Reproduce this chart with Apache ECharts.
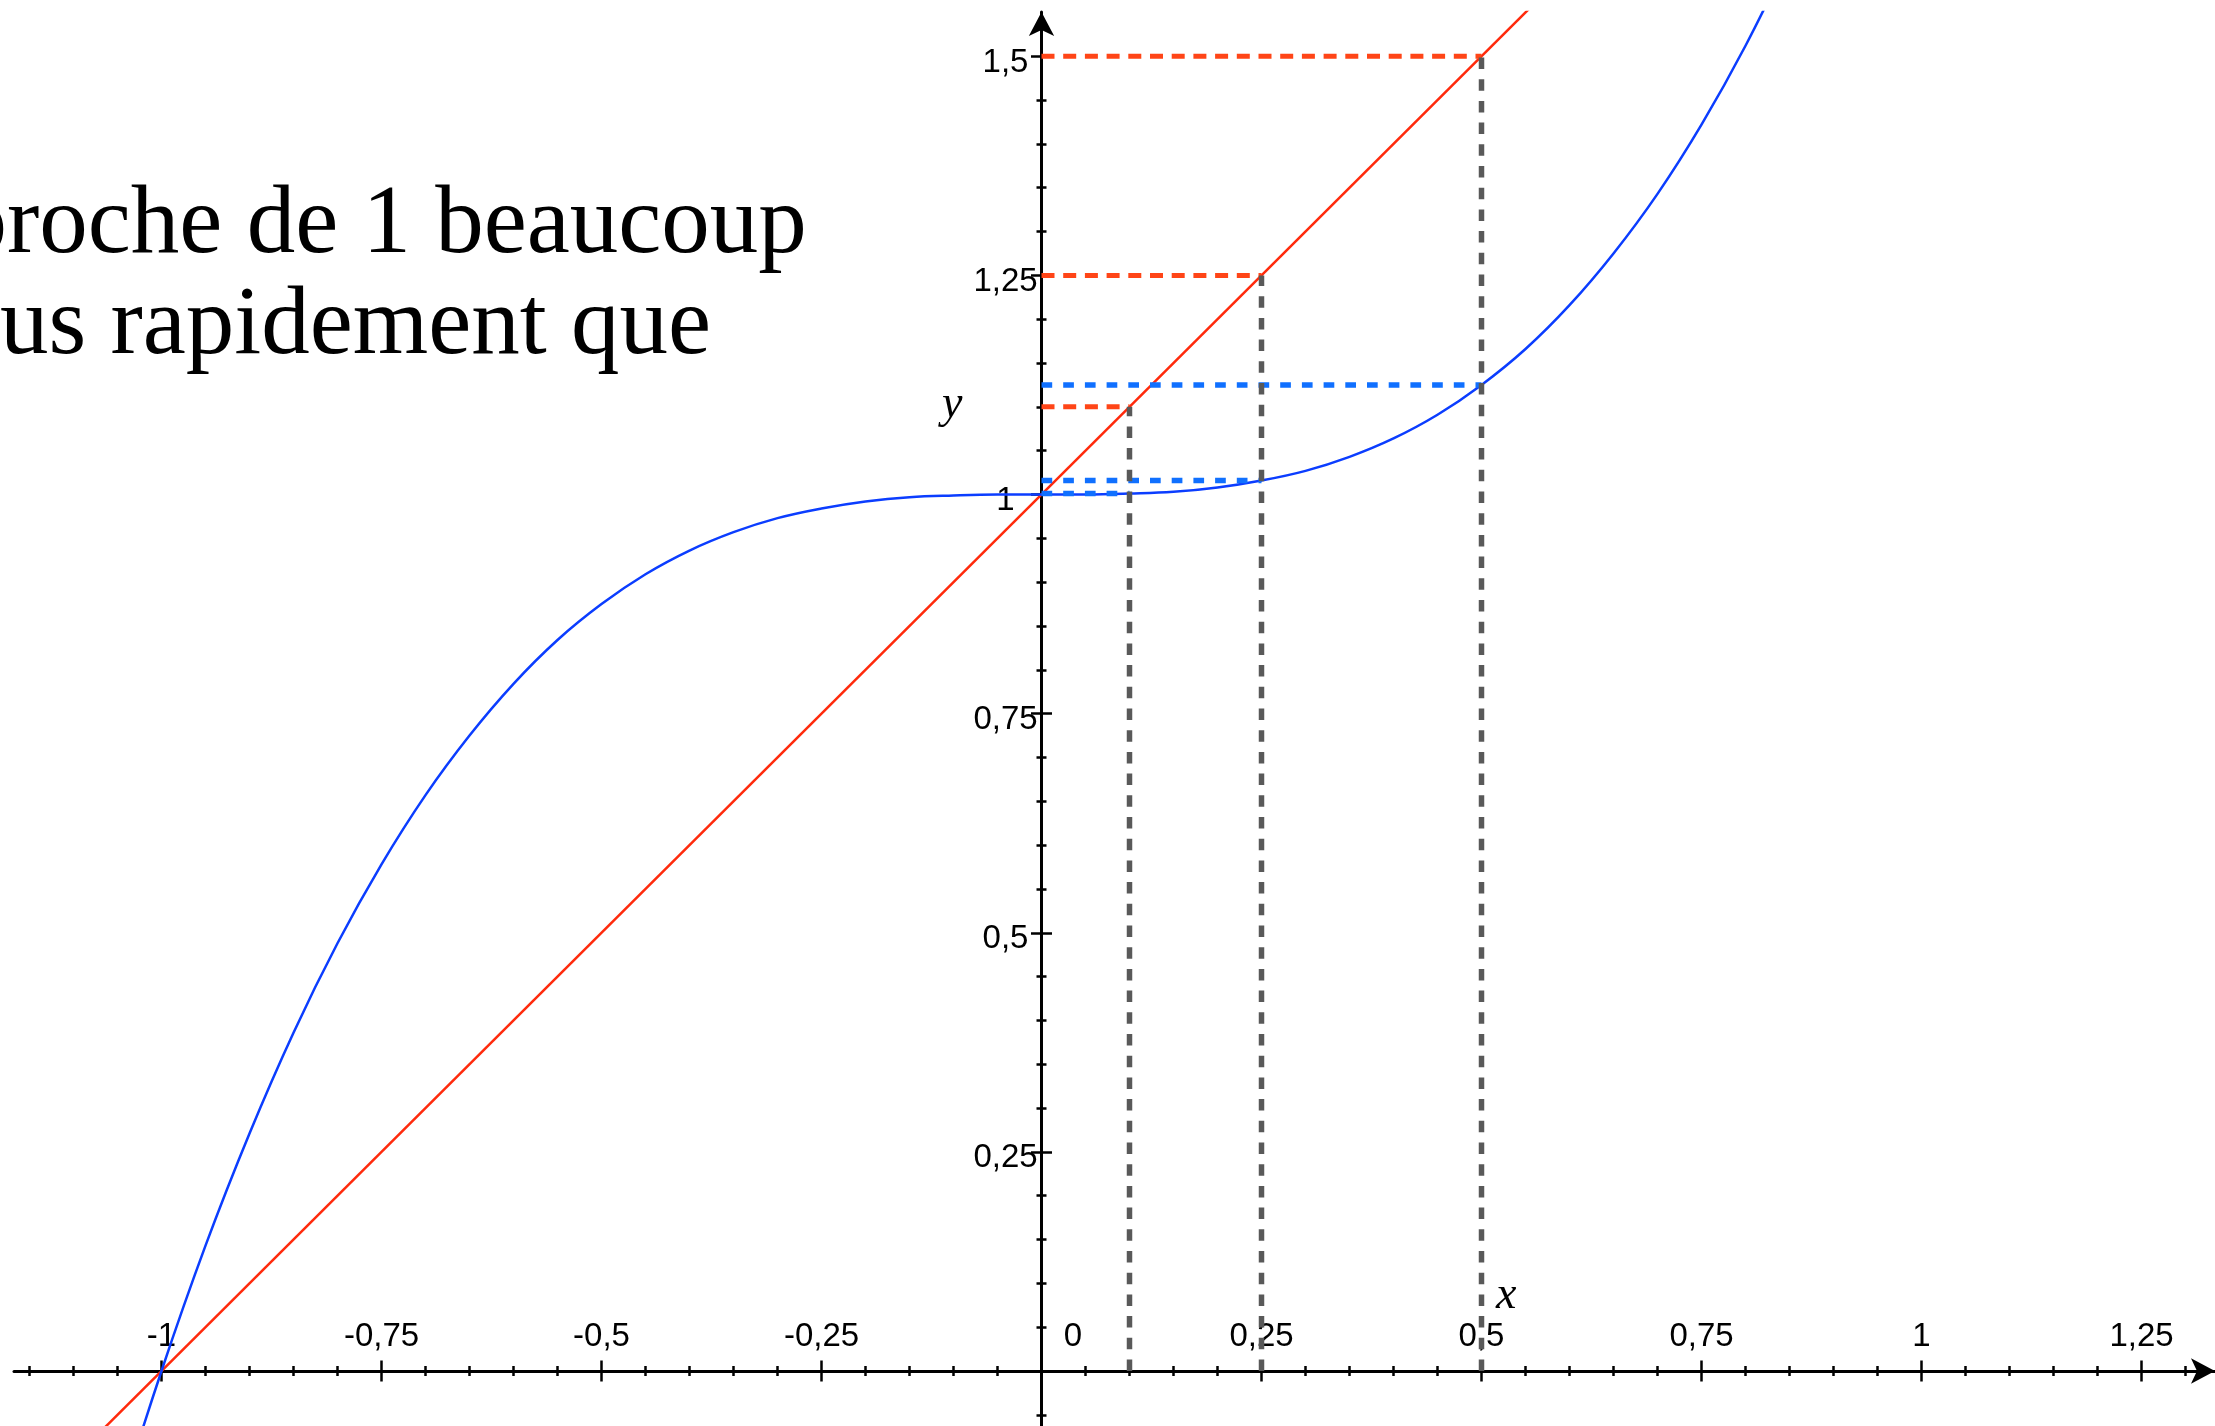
<!DOCTYPE html>
<html>
<head>
<meta charset="utf-8">
<script src="https://cdn.jsdelivr.net/npm/echarts@6/dist/echarts.min.js"></script>
<style>
  html, body { margin: 0; padding: 0; background: #fff; }
  #graphique { width: 2215px; height: 1426px; }
</style>
</head>
<body>
<div id="graphique"></div>
<script>
// Valeurs lues sur la figure
// courbe bleue (y = x^3 + 1)
const courbeX = [-1.1, -1.05, -1, -0.95, -0.9, -0.85, -0.8, -0.75, -0.7, -0.65, -0.6, -0.55, -0.5, -0.45, -0.4, -0.35, -0.3, -0.25, -0.2, -0.15, -0.1, -0.05, 0, 0.05, 0.1, 0.15, 0.2, 0.25, 0.3, 0.35, 0.4, 0.45, 0.5, 0.55, 0.6, 0.65, 0.7, 0.75, 0.8, 0.85];
const courbeY = [-0.331, -0.158, 0, 0.143, 0.271, 0.386, 0.488, 0.578, 0.657, 0.725, 0.784, 0.834, 0.875, 0.909, 0.936, 0.957, 0.973, 0.984, 0.992, 0.997, 0.999, 1, 1, 1, 1.001, 1.003, 1.008, 1.016, 1.027, 1.043, 1.064, 1.091, 1.125, 1.166, 1.216, 1.275, 1.343, 1.422, 1.512, 1.614];
// droite rouge (y = x + 1)
const droiteX = [-1.1, 0.6];
const droiteY = [-0.1, 1.6];
// pointillés
const abscisses = [0.1, 0.25, 0.5];
const niveauxDroite = [1.1, 1.25, 1.5];
const niveauxCourbe = [1.001, 1.016, 1.125];
// graduations
const graduationsX = [-1, -0.75, -0.5, -0.25, 0, 0.25, 0.5, 0.75, 1, 1.25];
const graduationsY = [0.25, 0.5, 0.75, 1, 1.25, 1.5];

// Repère en pixels : origine et échelle
const X0 = 1041.5, Y0 = 1371, SX = 880, SY = 876.5;
function cadre(xmin, xmax, ymin, ymax) {
  return {
    left: X0 + xmin * SX,
    top: Y0 - ymax * SY,
    width: (xmax - xmin) * SX,
    height: (ymax - ymin) * SY,
    containLabel: false,
    outerBoundsMode: 'none'
  };
}

const policeGrad = '"Liberation Sans", Arial, sans-serif';
const tailleGrad = 33;
const noir = '#000';

function largeur(txt, police) {
  const ctx = document.createElement('canvas').getContext('2d');
  ctx.font = police;
  return ctx.measureText(txt).width;
}

function estGraduation(liste, v) {
  return liste.some(g => Math.abs(g - v) < 1e-6);
}
function virgule(v) {
  return String(Math.round(v * 100) / 100).replace('.', ',');
}

const traitMajeur = { show: true, length: 10.5, lineStyle: { color: noir, width: 2.5 } };
const traitMineur = { show: true, splitNumber: 5, length: 5, lineStyle: { color: noir, width: 2.5 } };

const fleche = (taille) => ({
  show: true,
  onZero: true,
  symbol: ['none', 'arrow'],
  symbolSize: taille,
  lineStyle: { color: noir, width: 3 }
});

const chart = echarts.init(document.getElementById('graphique'));

function segment(points, couleur, epaisseur, tirets, z) {
  return {
    type: 'line',
    xAxisIndex: 0,
    yAxisIndex: 0,
    data: points,
    symbol: 'none',
    z: z,
    lineStyle: { color: couleur, width: epaisseur, type: tirets },
    silent: true
  };
}

const series = [];
series.push({
  type: 'line',
  xAxisIndex: 0, yAxisIndex: 0,
  data: droiteX.map((x, i) => [x, droiteY[i]]),
  symbol: 'none',
  z: 2,
  lineStyle: { color: '#ff2a0c', width: 2.5 }
});
series.push({
  type: 'line',
  xAxisIndex: 0, yAxisIndex: 0,
  data: courbeX.map((x, i) => [x, courbeY[i]]),
  symbol: 'none',
  smooth: 0.4,
  z: 2,
  lineStyle: { color: '#0b3dff', width: 2.5 }
});
abscisses.forEach((a, i) => {
  series.push(segment([[0, niveauxDroite[i]], [a, niveauxDroite[i]]], '#ff4517', 5, [13, 8.7], 3));
  series.push(segment([[0, niveauxCourbe[i]], [a, niveauxCourbe[i]]], '#1070ff', 5.5, [10.7, 11], 3));
  series.push(segment([[a, 0], [a, niveauxDroite[i]]], '#595959', 5.5, [11.5, 10.2], 4));
});

const police = '97px "Liberation Serif", serif';
const policeItal = 'italic 46px "Liberation Serif", serif';

const option = {
  animation: false,
  backgroundColor: '#fff',
  grid: [
    cadre(-1.1676, 1.3335, -0.063, 1.5505),
    cadre(-1.25, 1.5, 0, 0),
    cadre(0, 0, -0.25, 1.5)
  ],
  xAxis: [
    {
      gridIndex: 0, type: 'value', min: -1.1676, max: 1.3335,
      axisLine: fleche([19, 24]),
      axisTick: { show: false }, axisLabel: { show: false }, splitLine: { show: false }
    },
    {
      gridIndex: 1, type: 'value', position: 'top', min: -1.25, max: 1.5, interval: 0.25,
      axisLine: { show: false, onZero: false },
      axisTick: traitMajeur, minorTick: traitMineur, splitLine: { show: false },
      axisLabel: {
        show: true, interval: 0, margin: 18,
        fontSize: tailleGrad, fontFamily: policeGrad, color: noir,
        formatter: v => {
          if (!estGraduation(graduationsX, v)) return '';
          if (Math.abs(v) < 1e-6) return '{zero|0}';
          return virgule(v);
        },
        rich: { zero: { fontSize: tailleGrad, fontFamily: policeGrad, color: noir, padding: [0, 0, 0, 63] } }
      }
    },
    {
      gridIndex: 1, type: 'value', position: 'bottom', min: -1.25, max: 1.5, interval: 0.25,
      axisLine: { show: false, onZero: false },
      axisTick: traitMajeur, minorTick: traitMineur, splitLine: { show: false },
      axisLabel: { show: false }
    },
    {
      gridIndex: 2, type: 'value', min: -1, max: 1, show: false
    }
  ],
  yAxis: [
    {
      gridIndex: 0, type: 'value', min: -0.063, max: 1.5505,
      axisLine: fleche([19, 24]),
      axisTick: { show: false }, axisLabel: { show: false }, splitLine: { show: false }
    },
    {
      gridIndex: 1, type: 'value', min: 0, max: 1, show: false
    },
    {
      gridIndex: 2, type: 'value', position: 'left', min: -0.25, max: 1.5, interval: 0.25,
      axisLine: { show: false, onZero: false },
      axisTick: traitMajeur, minorTick: traitMineur, splitLine: { show: false },
      axisLabel: {
        show: true, interval: 0, margin: 36, align: 'center',
        fontSize: tailleGrad, fontFamily: policeGrad, color: noir,
        formatter: v => estGraduation(graduationsY, v) ? '{g|' + virgule(v) + '}' : '',
        rich: { g: { fontSize: tailleGrad, fontFamily: policeGrad, color: noir, padding: [13, 0, 0, 0] } }
      }
    },
    {
      gridIndex: 2, type: 'value', position: 'right', min: -0.25, max: 1.5, interval: 0.25,
      axisLine: { show: false, onZero: false },
      axisTick: traitMajeur, minorTick: traitMineur, splitLine: { show: false },
      axisLabel: { show: false }
    }
  ],
  graphic: [
    {
      type: 'text', x: 7 - largeur('app', police), y: 227, z: 10,
      style: { text: 'approche de 1 beaucoup', font: police, fill: noir, align: 'left', verticalAlign: 'middle' }
    },
    {
      type: 'text', x: 0 - largeur('pl', police), y: 328, z: 10,
      style: { text: 'plus rapidement que', font: police, fill: noir, align: 'left', verticalAlign: 'middle' }
    },
    {
      type: 'text', x: 1496, y: 1296, z: 10,
      style: { text: 'x', font: policeItal, fill: noir, align: 'left', verticalAlign: 'middle' }
    },
    {
      type: 'text', x: 942, y: 405, z: 10,
      style: { text: 'y', font: policeItal, fill: noir, align: 'left', verticalAlign: 'middle' }
    }
  ],
  series: series
};

chart.setOption(option);
</script>
</body>
</html>
